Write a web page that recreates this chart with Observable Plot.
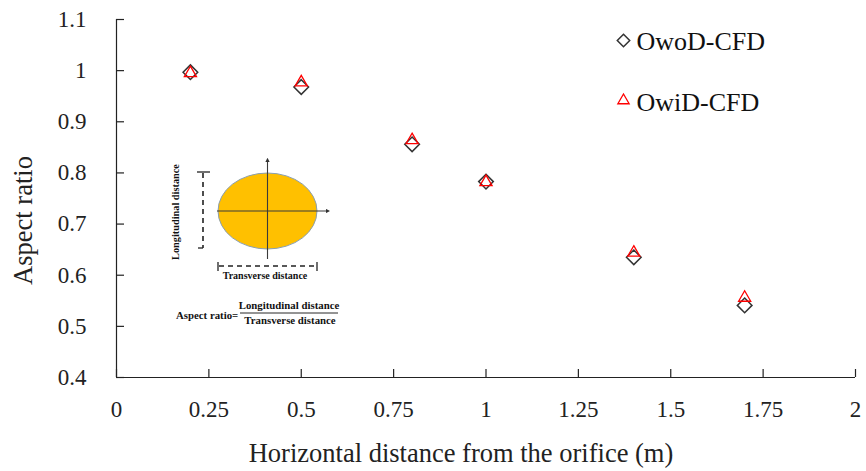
<!DOCTYPE html>
<html>
<head>
<meta charset="utf-8">
<script src="https://cdn.jsdelivr.net/npm/d3@7"></script>
<script src="https://cdn.jsdelivr.net/npm/@observablehq/plot@0.6"></script>
<style>
  html, body { margin: 0; padding: 0; background: #fff; }
  #chart { width: 866px; height: 471px; }
</style>
</head>
<body>
<div id="chart"></div>
<script>
// ---- data ----
const distances = [0.2, 0.5, 0.8, 1.0, 1.4, 1.7];
const owodValues = [0.997, 0.968, 0.856, 0.783, 0.635, 0.541];
const owidValues = [0.995, 0.977, 0.864, 0.782, 0.644, 0.556];
const seriesNames = ["OwoD-CFD", "OwiD-CFD"];
const xTicks = [0, 0.25, 0.5, 0.75, 1, 1.25, 1.5, 1.75, 2];
const yTicks = [0.4, 0.5, 0.6, 0.7, 0.8, 0.9, 1.0, 1.1];
const xLabel = "Horizontal distance from the orifice (m)";
const yLabel = "Aspect ratio";

const owod = distances.map((d, i) => ({x: d, y: owodValues[i]}));
const owid = distances.map((d, i) => ({x: d, y: owidValues[i]}));
const fmt = d => String(+d.toFixed(2));
const serif = "'Liberation Serif', 'Times New Roman', serif";

// inset schematic (ellipse definition figure)
function inset(index, scales, values, dims, context) {
  const ns = "http://www.w3.org/2000/svg";
  const g = document.createElementNS(ns, "g");
  const add = (tag, attrs, text) => {
    const el = document.createElementNS(ns, tag);
    for (const k in attrs) el.setAttribute(k, attrs[k]);
    if (text) el.textContent = text;
    g.appendChild(el);
    return el;
  };
  const defs = add("defs", {});
  const marker = document.createElementNS(ns, "marker");
  marker.setAttribute("id", "ah");
  marker.setAttribute("viewBox", "0 0 10 10");
  marker.setAttribute("refX", "5"); marker.setAttribute("refY", "5");
  marker.setAttribute("markerWidth", "4"); marker.setAttribute("markerHeight", "4");
  marker.setAttribute("orient", "auto");
  const mp = document.createElementNS(ns, "path");
  mp.setAttribute("d", "M0,0L10,5L0,10z"); mp.setAttribute("fill", "#333");
  marker.appendChild(mp); defs.appendChild(marker);

  const cx = 267.5, cy = 211;
  add("ellipse", {cx, cy, rx: 49.5, ry: 38, fill: "#FFC000", stroke: "#8a9fb0", "stroke-width": 1});
  add("line", {x1: 217, y1: cy, x2: 328, y2: cy, stroke: "#3a3a3a", "stroke-width": 1.1, "marker-end": "url(#ah)"});
  add("line", {x1: cx, y1: 259, x2: cx, y2: 160, stroke: "#3a3a3a", "stroke-width": 1.1, "marker-end": "url(#ah)"});
  // longitudinal dimension
  add("line", {x1: 203, y1: 173, x2: 203, y2: 248, stroke: "#222", "stroke-width": 1.6, "stroke-dasharray": "5,4"});
  add("line", {x1: 197, y1: 172, x2: 210, y2: 172, stroke: "#222", "stroke-width": 1.3});
  add("line", {x1: 198, y1: 248, x2: 203, y2: 248, stroke: "#222", "stroke-width": 1.3});
  // transverse dimension
  add("line", {x1: 219, y1: 266, x2: 317, y2: 266, stroke: "#222", "stroke-width": 1.6, "stroke-dasharray": "5,4"});
  add("line", {x1: 218, y1: 262, x2: 218, y2: 271, stroke: "#222", "stroke-width": 1.3});
  add("line", {x1: 317, y1: 262, x2: 317, y2: 271, stroke: "#222", "stroke-width": 1.3});
  const ts = {"font-family": serif, "font-weight": "bold", fill: "#111"};
  add("text", {...ts, x: 177, y: 212, "text-anchor": "middle", "dominant-baseline": "middle",
    transform: "rotate(-90 177 212)", "font-size": 10.3}, "Longitudinal distance");
  add("text", {...ts, x: 265, y: 277, "font-size": 10, "text-anchor": "middle", "dominant-baseline": "middle"}, "Transverse distance");
  add("text", {...ts, x: 176, y: 317, "font-size": 10.8, "text-anchor": "start", "dominant-baseline": "middle"}, "Aspect ratio=");
  add("text", {...ts, x: 289, y: 307, "font-size": 10.8, "text-anchor": "middle", "dominant-baseline": "middle"}, "Longitudinal distance");
  add("line", {x1: 240, y1: 313, x2: 338, y2: 313, stroke: "#111", "stroke-width": 0.9});
  add("text", {...ts, x: 290, y: 322, "font-size": 10.8, "text-anchor": "middle", "dominant-baseline": "middle"}, "Transverse distance");
  return g;
}

const chart = Plot.plot({
  width: 866,
  height: 471,
  marginLeft: 116,
  marginRight: 11,
  marginTop: 19,
  marginBottom: 94,
  style: {fontFamily: serif, background: "#fff", color: "#222"},
  x: {domain: [0, 2]},
  y: {domain: [0.4, 1.1]},
  marks: [
    // axes
    Plot.axisX(xTicks, {tickSize: 0, tickPadding: 23, tickFormat: fmt, fontSize: 23, label: null}),
    Plot.axisY(yTicks, {tickSize: 0, tickPadding: 30, tickFormat: fmt, fontSize: 23, label: null}),
    Plot.ruleY([0.4], {x1: 0, x2: 2, stroke: "#222", strokeWidth: 1.2}),
    Plot.ruleX([0], {y1: 0.4, y2: 1.1, stroke: "#222", strokeWidth: 1.2}),
    Plot.ruleY(yTicks, {x1: 0, x2: 0, insetRight: -8, stroke: "#222", strokeWidth: 1.2}),
    Plot.ruleX(xTicks, {y1: 0.4, y2: 0.4, insetTop: -8, stroke: "#222", strokeWidth: 1.2}),
    Plot.text([xLabel], {frameAnchor: "bottom", lineAnchor: "middle", dx: -25, dy: 76, fontSize: 26.5, fill: "#222"}),
    Plot.text([yLabel], {frameAnchor: "left", textAnchor: "middle", lineAnchor: "middle", dx: -93, dy: 22, rotate: -90, fontSize: 26.5, fill: "#222"}),
    // inset figure
    inset,
    // data
    Plot.dot(owod, {x: "x", y: "y", symbol: "diamond2", r: 6.6, stroke: "#333", strokeWidth: 1.5, fill: "none"}),
    Plot.dot(owid, {x: "x", y: "y", symbol: "triangle2", r: 5.8, stroke: "#ff0000", strokeWidth: 1.3, fill: "none"}),
    // legend
    Plot.dot([seriesNames[0]], {frameAnchor: "top-left", dx: 507, dy: 21, symbol: "diamond2", r: 5.6, stroke: "#333", strokeWidth: 1.5, fill: "none"}),
    Plot.text([seriesNames[0]], {frameAnchor: "top-left", dx: 520, dy: 22, textAnchor: "start", lineAnchor: "middle", fontSize: 26, fill: "#111"}),
    Plot.dot([seriesNames[1]], {frameAnchor: "top-left", dx: 507, dy: 81, symbol: "triangle2", r: 5.4, stroke: "#ff0000", strokeWidth: 1.3, fill: "none"}),
    Plot.text([seriesNames[1]], {frameAnchor: "top-left", dx: 520, dy: 83, textAnchor: "start", lineAnchor: "middle", fontSize: 26, fill: "#111"})
  ]
});
document.getElementById("chart").appendChild(chart);
</script>
</body>
</html>
